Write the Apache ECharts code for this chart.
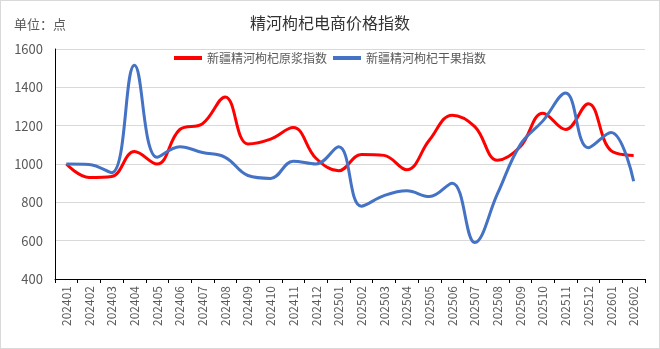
<!DOCTYPE html>
<html><head><meta charset="utf-8">
<script src="https://cdn.jsdelivr.net/npm/echarts@6/dist/echarts.min.js"></script>
<style>html,body{margin:0;padding:0;background:#fff}#c{width:660px;height:349px;box-sizing:border-box;border:1px solid #d9d9d9}</style>
</head><body><div id="c"></div>
<script>
const categories = ['202401','202402','202403','202404','202405','202406','202407','202408','202409','202410','202411','202412','202501','202502','202503','202504','202505','202506','202507','202508','202509','202510','202511','202512','202601','202602'];
const rawPulp = [1000,930,935,1065,1000,1180,1210,1350,1105,1130,1190,1030,965,1050,1045,970,1125,1255,1195,1020,1090,1265,1180,1315,1070,1045];
const driedFruit = [1000,998,955,1515,1035,1090,1060,1035,940,925,1015,1000,1090,780,835,860,830,900,590,845,1100,1225,1370,1085,1165,910];
const yTicks = {min:400, max:1600, interval:200};
const FONT = '"Noto Sans CJK SC", "Noto Sans", sans-serif';
const chart = echarts.init(document.getElementById('c'));
chart.setOption({
  animation:false,
  textStyle:{fontFamily:FONT},
  title:[
    {text:'精河枸杞电商价格指数', left:'center', top:9, textStyle:{fontSize:16, fontWeight:'normal', color:'#333', fontFamily:FONT}},
    {text:'单位：点', left:8, top:12, textStyle:{fontSize:13, fontWeight:'normal', color:'#595959', fontFamily:FONT}}
  ],
  legend:{top:46, left:'center', itemWidth:28, itemHeight:4, itemGap:6, icon:'rect',
    textStyle:{fontSize:12, color:'#595959', fontFamily:FONT},
    data:['新疆精河枸杞原浆指数','新疆精河枸杞干果指数']},
  grid:{left:54, right:14, top:48, bottom:69, containLabel:false},
  xAxis:{type:'category', data:categories, boundaryGap:true,
    axisLine:{lineStyle:{color:'#000', width:1}},
    axisTick:{show:true, length:4, lineStyle:{color:'#000'}},
    axisLabel:{rotate:90, fontSize:12, color:'#595959', margin:7, fontFamily:FONT}},
  yAxis:{type:'value', min:yTicks.min, max:yTicks.max, interval:yTicks.interval,
    axisLine:{show:true, lineStyle:{color:'#000', width:1}},
    axisTick:{show:false},
    splitLine:{lineStyle:{color:'#d9d9d9'}},
    axisLabel:{fontSize:13, color:'#595959', margin:12, fontFamily:FONT, formatter:v=>String(v)}},
  series:[
    {name:'新疆精河枸杞原浆指数', type:'line', data:rawPulp, smooth:0.4, symbol:'none',
      lineStyle:{color:'#FF0000', width:3}, itemStyle:{color:'#FF0000'}},
    {name:'新疆精河枸杞干果指数', type:'line', data:driedFruit, smooth:0.4, symbol:'none',
      lineStyle:{color:'#4472C4', width:3}, itemStyle:{color:'#4472C4'}}
  ]
});
</script></body></html>
